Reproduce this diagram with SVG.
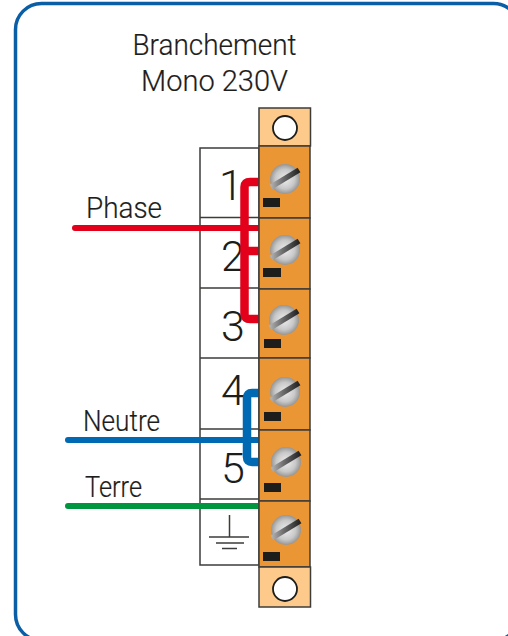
<svg xmlns="http://www.w3.org/2000/svg" width="508" height="636" viewBox="0 0 508 636">
<style>
.lbl{font-family:"Roboto","Liberation Sans",sans-serif;font-size:29px;fill:#1d1d1b;font-weight:300;stroke:#1d1d1b;stroke-width:0.2}
.num{font-family:"Roboto","Liberation Sans",sans-serif;font-size:43px;fill:#1d1d1b;font-weight:300;text-anchor:middle}
.cell{fill:#fff;stroke:#3c3c3b;stroke-width:1.5}
.term{fill:#ea9635;stroke:#3c3c3b;stroke-width:1.5}
.end{fill:#fdca8b;stroke:#3c3c3b;stroke-width:1.5}
.hole{fill:#fff;stroke:#1d1d1b;stroke-width:1.8}
.tag{fill:#1d1d1b}
.wire{fill:none;stroke-linejoin:round}
</style>
<defs>
<radialGradient id="sg" cx="0.5" cy="0.5" r="0.5"><stop offset="0" stop-color="#eeeeee"/><stop offset="0.65" stop-color="#c8c8c8"/><stop offset="1" stop-color="#959595"/></radialGradient>
<linearGradient id="slot" gradientUnits="userSpaceOnUse" x1="-14" y1="0" x2="14" y2="0"><stop offset="0" stop-color="#b0b0b0"/><stop offset="0.4" stop-color="#707070"/><stop offset="1" stop-color="#222"/></linearGradient>
<g id="screw"><circle r="15" fill="url(#sg)"/><path d="M-14 8L14-9" stroke="url(#slot)" stroke-width="5.5" fill="none"/></g>
</defs>
<rect width="508" height="636" fill="#fff"/>
<rect id="frame" x="15.500" y="3.500" width="504" height="637" rx="26" fill="#fff" stroke="#0a5ea6" stroke-width="3.500"/>
<g id="title"><text class="lbl" x="214.500" y="55" text-anchor="middle" textLength="164" lengthAdjust="spacingAndGlyphs">Branchement</text><text class="lbl" x="214.500" y="91" text-anchor="middle" textLength="147" lengthAdjust="spacingAndGlyphs">Mono 230V</text></g>
<g id="table">
<rect class="cell" x="200" y="148" width="59" height="417"/>
<path d="M200 217.500H259M200 288H259M200 358H259M200 429H259M200 499H259" stroke="#3c3c3b" stroke-width="1.500" fill="none"/>
<text class="num" x="231" y="200">1</text><text class="num" x="233" y="271">2</text><text class="num" x="233" y="341">3</text><text class="num" x="233" y="405">4</text><text class="num" x="233" y="483">5</text>
<path id="ground" d="M229.500 515V537M209 537H249M216 543H244M222 548.500H237" stroke="#3c3c3b" stroke-width="1.500" fill="none"/>
</g>
<g id="connectors">
<path class="wire" d="M260 182H250Q244.500 182 244.500 187V314Q244.500 319 250 319H260M244.500 251H260" stroke="#e2001a" stroke-width="8.500"/>
<path class="wire" d="M75 228H260" stroke="#e2001a" stroke-width="6" stroke-linecap="round"/>
<path class="wire" d="M260 393H252Q247 393 247 398V457Q247 462 252 462H260" stroke="#0069b4" stroke-width="8.500"/>
<path class="wire" d="M68 440H260" stroke="#0069b4" stroke-width="6" stroke-linecap="round"/>
<path class="wire" d="M68 506H260" stroke="#009640" stroke-width="6" stroke-linecap="round"/>
</g>
<g id="terminal-top"><rect class="end" x="259" y="108" width="51.500" height="38"/><circle class="hole" cx="285" cy="128" r="12"/></g>
<g id="terminal-1"><rect class="term" x="259" y="146" width="51" height="72"/><use href="#screw" x="285" y="179"/><rect class="tag" x="263" y="198" width="17" height="9"/></g>
<g id="terminal-2"><rect class="term" x="259" y="218" width="51" height="71"/><use href="#screw" x="285" y="250"/><rect class="tag" x="263" y="268" width="18" height="9"/></g>
<g id="terminal-3"><rect class="term" x="259" y="289" width="51" height="69"/><use href="#screw" x="284" y="320"/><rect class="tag" x="264" y="339" width="17" height="9"/></g>
<g id="terminal-4"><rect class="term" x="259" y="358" width="51" height="72"/><use href="#screw" x="285" y="392"/><rect class="tag" x="264" y="412" width="17" height="9"/></g>
<g id="terminal-5"><rect class="term" x="259" y="430" width="51" height="71"/><use href="#screw" x="286" y="462"/><rect class="tag" x="264" y="483" width="17" height="9"/></g>
<g id="terminal-6"><rect class="term" x="259" y="501" width="51" height="66"/><use href="#screw" x="286" y="530"/><rect class="tag" x="263" y="552" width="17" height="9"/></g>
<g id="terminal-bottom"><rect class="end" x="259" y="567" width="51.500" height="40"/><circle class="hole" cx="285" cy="589" r="12"/></g>
<g id="labels"><text class="lbl" x="86" y="218" textLength="76" lengthAdjust="spacingAndGlyphs">Phase</text><text class="lbl" x="83" y="431" textLength="77" lengthAdjust="spacingAndGlyphs">Neutre</text><text class="lbl" x="85" y="497" textLength="57" lengthAdjust="spacingAndGlyphs">Terre</text></g>
</svg>
